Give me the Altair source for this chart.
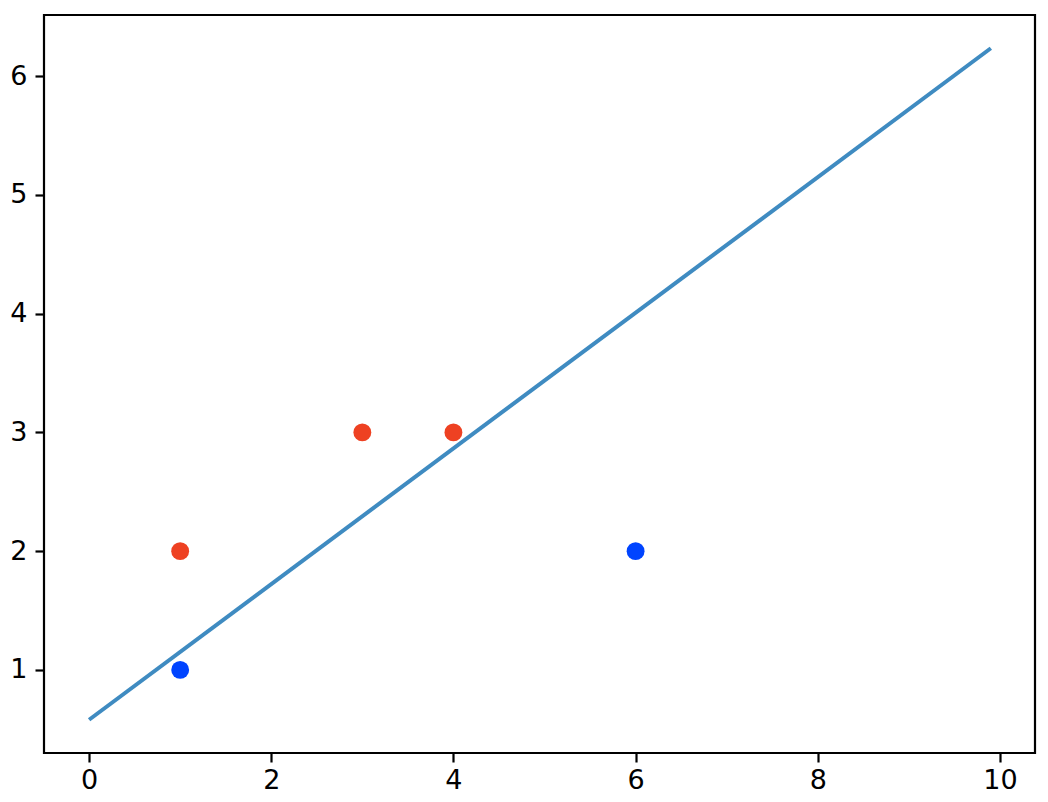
import altair as alt
import pandas as pd

# scatter points
px = [1, 3, 4, 1, 6]
py = [2, 3, 3, 1, 2]
pcls = ["red", "red", "red", "blue", "blue"]

# separating line (read endpoints)
lx = [0.0, 9.9]
ly = [0.58, 6.235]

# tick values
xticks = [0, 2, 4, 6, 8, 10]
yticks = [1, 2, 3, 4, 5, 6]

pts = pd.DataFrame({"x": px, "y": py, "c": pcls})
ln = pd.DataFrame({"x": lx, "y": ly})

xs = alt.Scale(domain=[-0.495, 10.385], nice=False, zero=False)
ys = alt.Scale(domain=[0.30, 6.515], nice=False, zero=False)

axis_style = dict(
    title=None, format="d", grid=False, domain=False, labelFontSize=27,
    labelFont="DejaVu Sans", labelColor="black", tickColor="black", tickSize=9,
    tickWidth=2.2, labelFlush=False,
)
xax = alt.Axis(values=xticks, labelPadding=5, **axis_style)
yax = alt.Axis(values=yticks, labelPadding=8, **axis_style)

line = alt.Chart(ln).mark_line(color="#3f8bc1", strokeWidth=4, clip=True).encode(
    x=alt.X("x:Q", scale=xs, axis=xax),
    y=alt.Y("y:Q", scale=ys, axis=yax),
)

dots = alt.Chart(pts).mark_circle(size=320, opacity=1).encode(
    x=alt.X("x:Q", scale=xs, axis=xax),
    y=alt.Y("y:Q", scale=ys, axis=yax),
    color=alt.Color("c:N", scale=alt.Scale(domain=["red", "blue"], range=["#ee4122", "#0044ff"]), legend=None),
)

chart = alt.layer(line, dots).properties(
    width=991, height=738,
    padding={"left": 36, "top": 7, "right": 4, "bottom": 46},
    autosize=alt.AutoSizeParams(type="none"),
    background="white",
).configure_view(
    stroke="black", strokeWidth=2.2
)

chart.save("out.html", embed_options={"renderer": "svg", "actions": False})
